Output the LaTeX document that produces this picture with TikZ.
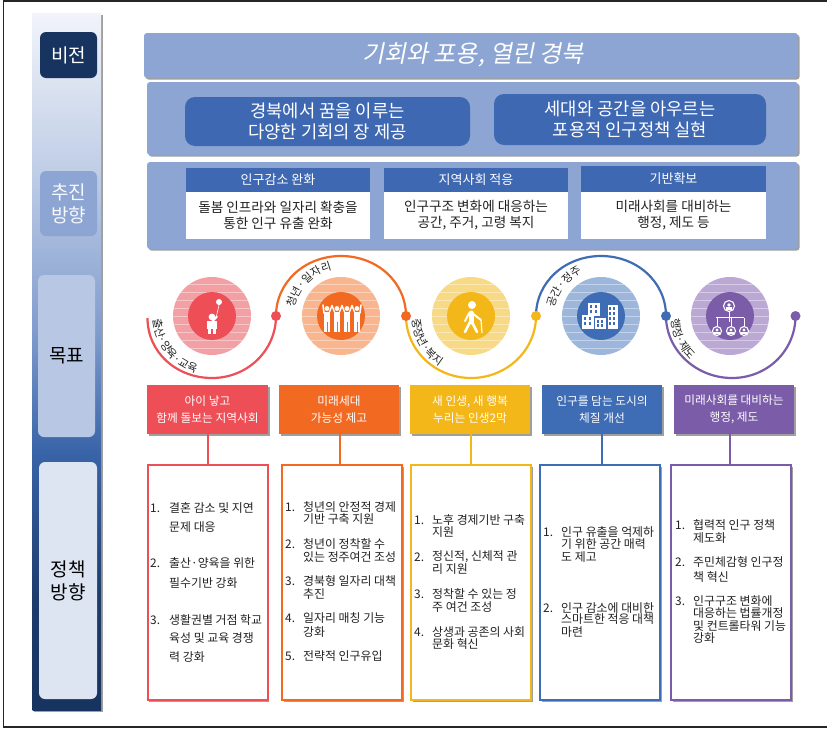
\documentclass[tikz,border=0pt]{standalone}
\usepackage{fontspec}
\setmainfont{Noto Sans CJK KR}
\newfontfamily\slantfont[FakeSlant=0.2]{Noto Sans CJK KR}
\usetikzlibrary{shadows,decorations.text,calc}
\definecolor{cred}{HTML}{EE4E56}
\definecolor{corange}{HTML}{F26A21}
\definecolor{cyellow}{HTML}{F4B71A}
\definecolor{cblue}{HTML}{3F6DB5}
\definecolor{cpurple}{HTML}{7A5CA8}
\definecolor{lred}{HTML}{F3A0A5}
\definecolor{lorange}{HTML}{F8B58E}
\definecolor{lyellow}{HTML}{F8D985}
\definecolor{lblue}{HTML}{9DB6DC}
\definecolor{lpurple}{HTML}{BBA8D4}
\definecolor{panel}{HTML}{8CA5D2}
\definecolor{btn}{HTML}{3F68B3}
\definecolor{navy}{HTML}{17335F}
\definecolor{ink}{HTML}{222222}
\pgfdeclareverticalshading{sidebarshade}{100bp}{
 color(0bp)=(navy);
 color(25bp)=(navy);
 color(33bp)=(navy!85!cblue);
 color(43.6bp)=(cblue!85!navy);
 color(52.3bp)=(panel!85!cblue);
 color(63.7bp)=(panel!55!white);
 color(75bp)=(panel!12!white);
 color(100bp)=(panel!12!white)}
\tikzset{
 hard/.style={general shadow={fill=gray!75,shadow xshift=1.6pt,shadow yshift=-1.6pt}},
 sidebox/.style={rectangle,rounded corners=6pt,inner sep=0pt,align=center,font=\fontsize{19}{23}\selectfont},
 panelbox/.style={rectangle,fill=panel,rounded corners=3pt,inner sep=0pt,hard},
 btnbox/.style={rectangle,fill=btn,rounded corners=10pt,inner sep=0pt,text=white,align=center,font=\fontsize{17.7}{20.5}\selectfont},
 cardhead/.style={rectangle,fill=btn,inner sep=0pt,text=white,font=\fontsize{13}{15}\selectfont},
 cardbody/.style={rectangle,fill=white,inner sep=0pt,text=ink,align=center,font=\fontsize{13.6}{16}\selectfont},
 goalbox/.style={rectangle,inner sep=0pt,text=white,align=center,minimum height=49pt,hard,font=\fontsize{11.7}{17}\selectfont},
 policybox/.style={rectangle,draw,line width=2pt,fill=white,inner sep=0pt,minimum width=120pt,minimum height=235pt,hard},
 listitem/.style={anchor=west,inner sep=0pt,text=ink,font=\fontsize{11.9}{14}\selectfont},
 wave/.style={line width=2.2pt},
 dot/.style={circle,inner sep=0pt,minimum size=10pt},
 stem/.style={line width=2.5pt},
 iconw/.style={white,line cap=round,line join=round},
}
\newcommand{\goalcircle}[4]{% x, light, dark, name
 \begin{scope}
  \clip (#1,316) circle[radius=39pt];
  \fill[#2] (#1-40,276) rectangle (#1+40,356);
  \foreach \yy in {284,292,...,348} {\draw[white,opacity=.4,line width=1pt] (#1-40,\yy) -- (#1+40,\yy);}
 \end{scope}
 \node[circle,fill=#3,minimum size=48pt,inner sep=0pt] (#4) at (#1,316) {};
}
\newcommand{\arclabel}[5]{% cx, from, to, r, text
 \path[decorate,decoration={text along path,text={|\fontsize{11}{11}\selectfont\color{ink}|#5}}]
  plot[domain=#2:#3,samples=50] ({#1+#4*cos(\x)},{316-#4*sin(\x)});
}
\begin{document}
\begin{tikzpicture}[x=1pt,y=-1pt]
\useasboundingbox (0,0) rectangle (827,728);
\fill[white] (0,0) rectangle (827,728);
% outer frame
\draw[black!85,line width=1.5pt] (827,1) -- (3.5,1) -- (3.5,727) -- (827,727);

% sidebar
\fill[gray!75] (34,15) rectangle (103,712);
\shade[shading=sidebarshade] (32.5,13) rectangle (101,710);
\node[sidebox,fill=navy,text=white,minimum width=57pt,minimum height=46pt] (vision) at (68.5,55) {비전};
\node[sidebox,fill=panel,text=white!92!panel,minimum width=57pt,minimum height=65pt] (drive) at (68.5,203.5) {추진\\방향};
\node[sidebox,fill=panel!62!white,text=black,minimum width=57pt,minimum height=162pt] (goal) at (66.5,356) {목표};
\node[sidebox,fill=panel!30!white,text=black,minimum width=58pt,minimum height=237pt] (policy) at (68,580.5) {정책\\방향};

% top panels
\node[panelbox,minimum width=654pt,minimum height=45pt] (p1) at (471,55.5) {};
\node[text=white,inner sep=0pt,font=\fontsize{24}{26}\slantfont] (title) at (473,55) {기회와 포용, 열린 경북};
\node[panelbox,minimum width=651pt,minimum height=73pt] (p2) at (472.5,118.5) {};
\node[panelbox,minimum width=651pt,minimum height=87pt] (p3) at (472.5,205.5) {};
\node[btnbox,minimum width=285pt,minimum height=49pt] (b1) at (327.5,121.5) {경북에서 꿈을 이루는\\다양한 기회의 장 제공};
\node[btnbox,minimum width=272pt,minimum height=51pt] (b2) at (630,119.5) {세대와 공간을 아우르는\\포용적 인구정책 실현};

\node[cardhead,minimum width=184pt,minimum height=24pt] (c1h) at (278,180) {인구감소 완화};
\node[cardbody,minimum width=184pt,minimum height=47pt] (c1b) at (278,215.5) {돌봄 인프라와 일자리 확충을\\통한 인구 유출 완화};
\node[cardhead,minimum width=184pt,minimum height=24pt] (c2h) at (476,180) {지역사회 적응};
\node[cardbody,minimum width=184pt,minimum height=47pt] (c2b) at (476,215.5) {인구구조 변화에 대응하는\\공간, 주거, 고령 복지};
\node[cardhead,minimum width=185pt,minimum height=26pt] (c3h) at (673.5,179) {기반확보};
\node[cardbody,minimum width=185pt,minimum height=47pt] (c3b) at (673.5,215.5) {미래사회를 대비하는\\행정, 제도 등};

% circles
\goalcircle{212}{lred}{cred}{k1}
\goalcircle{341}{lorange}{corange}{k2}
\goalcircle{471}{lyellow}{cyellow}{k3}
\goalcircle{601}{lblue}{cblue}{k4}
\goalcircle{730}{lpurple}{cpurple}{k5}

% wave
\coordinate (s0) at (147.5,318);
\coordinate (s1) at (276,316);
\coordinate (s2) at (406,316);
\coordinate (s3) at (536,316);
\coordinate (s4) at (666,316);
\coordinate (s5) at (795.5,316);
\coordinate (t1) at (212,378);
\coordinate (t2) at (341,256);
\coordinate (t3) at (471,378);
\coordinate (t4) at (601,256);
\coordinate (t5) at (732,378);
\draw[wave,cred] (s0) .. controls +(0,34) and +(-36,0) .. (t1) .. controls +(36,0) and +(0,34) .. (s1);
\draw[wave,corange] (s1) .. controls +(0,-34) and +(-36,0) .. (t2) .. controls +(36,0) and +(0,-34) .. (s2);
\draw[wave,cyellow] (s2) .. controls +(0,34) and +(-36,0) .. (t3) .. controls +(36,0) and +(0,34) .. (s3);
\draw[wave,cblue] (s3) .. controls +(0,-34) and +(-36,0) .. (t4) .. controls +(36,0) and +(0,-34) .. (s4);
\draw[wave,cpurple] (s4) .. controls +(0,34) and +(-36,0) .. (t5) .. controls +(36,0) and +(0,34) .. (s5);
\node[dot,fill=cred] (d1) at (s1) {};
\node[dot,fill=corange] (d2) at (s2) {};
\node[dot,fill=cyellow] (d3) at (s3) {};
\node[dot,fill=cblue] (d4) at (s4) {};
\node[dot,fill=cpurple] (d5) at (s5) {};

% wave labels
\arclabel{212}{183}{300}{59}{출산·양육·교육}
\arclabel{341}{170}{50}{47}{청년·일자리}
\arclabel{471}{183}{300}{59}{중장년·복지}
\arclabel{601}{170}{50}{47}{공간·정주}
\arclabel{730}{183}{300}{59}{행정·제도}

% icon 1: child and balloon
\fill[white] (219,302) circle[radius=3pt];
\draw[white,line width=.6pt] (219,305) -- (216.5,316);
\fill[white] (212,317) circle[radius=3.4pt];
\draw[iconw,line width=2pt] (212,322) -- (217,316.5);
\fill[white] (207,321) rectangle (216.5,329);
\fill[white] (208,329) rectangle (211,334);
\fill[white] (213,329) rectangle (216,334);

% icon 2: four people
\foreach \px in {327,337,347,357} {
 \fill[white] (\px,308.5) circle[radius=2.4pt];
 \fill[white] (\px-3,312) rectangle (\px+3,322);
 \fill[white] (\px-2.6,322) rectangle (\px-.5,332);
 \fill[white] (\px+.5,322) rectangle (\px+2.6,332);
}
\draw[iconw,line width=1.6pt] (324,313) -- (323,305);
\draw[iconw,line width=1.6pt] (360,313) -- (361,305);
\draw[iconw,line width=1.4pt] (329.5,312) -- (332,305.5) (334.5,312) -- (332,305.5);
\draw[iconw,line width=1.4pt] (339.5,312) -- (342,305.5) (344.5,312) -- (342,305.5);
\draw[iconw,line width=1.4pt] (349.5,312) -- (352,305.5) (354.5,312) -- (352,305.5);

% icon 3: walking elder with cane
\fill[white] (472,305) circle[radius=4pt];
\draw[iconw,line width=5pt] (471,313) -- (471,322);
\draw[iconw,line width=2.6pt] (470,322) -- (465,332) (472,322) -- (477,332);
\draw[iconw,line width=2pt] (472,313) -- (481,320);
\draw[white,line width=1.2pt] (481,320) -- (482,333);
\draw[iconw,line width=2pt] (469,313) -- (465,321);

% icon 4: buildings
\fill[white] (588,303) rectangle (600,316);
\fill[white] (582,315) rectangle (594,329);
\fill[white] (595,318) rectangle (606,329);
\fill[white] (607.5,305) rectangle (618,329);
\foreach \wx/\wy in {591/306,596/306,591/311,596/311,585/318,590/318,585/323,590/323,598/321,602/321,598/325,602/325,610/308,614/308,610/313,614/313,610/318,614/318,610/323,614/323} {
 \fill[cblue] (\wx-1,\wy-1.2) rectangle (\wx+1.2,\wy+1.6);
}

% icon 5: organisation chart
\draw[white,line width=.9pt] (729,312) -- (729,322) (716,317.5) -- (744,317.5) (717,317.5) -- (717,326) (731,317.5) -- (731,326) (744,317.5) -- (744,326);
\foreach \ox/\oy/\orad in {729/306/5.5,717/331/4.5,731/331/4.5,744/331/4.5} {
 \draw[white,line width=1.1pt,fill=cpurple] (\ox,\oy) circle[radius=\orad pt];
 \fill[white] (\ox,\oy-1) circle[radius=.36*\orad pt];
 \fill[white] (\ox-.6*\orad,\oy+.7*\orad) rectangle (\ox+.6*\orad,\oy+.2*\orad);
}

% goal boxes
\node[goalbox,fill=cred,minimum width=121pt] (g1) at (207.5,409.5) {아이 낳고\\함께 돌보는 지역사회};
\node[goalbox,fill=corange,minimum width=120pt] (g2) at (339,409.5) {미래세대\\가능성 제고};
\node[goalbox,fill=cyellow,minimum width=120pt] (g3) at (470,409.5) {새 인생, 새 행복\\누리는 인생2막};
\node[goalbox,fill=cblue,minimum width=120pt] (g4) at (602,409.5) {인구를 담는 도시의\\체질 개선};
\node[goalbox,fill=cpurple,minimum width=120pt] (g5) at (734,409.5) {미래사회를 대비하는\\행정, 제도};

% stems behind the policy boxes
\coordinate (q1) at (208,434); \coordinate (q2) at (340,434); \coordinate (q3) at (471,434); \coordinate (q4) at (602,434); \coordinate (q5) at (730,434);
\node[policybox,draw=cred] (pb1) at (207.5,582.5) {};
\node[policybox,draw=corange] (pb2) at (342,582.5) {};
\node[policybox,draw=cyellow] (pb3) at (471,582.5) {};
\node[policybox,draw=cblue] (pb4) at (600,582.5) {};
\node[policybox,draw=cpurple] (pb5) at (731,582.5) {};
\draw[stem,cred] (q1) -- (q1 |- pb1.north);
\draw[stem,corange] (q2) -- (q2 |- pb2.north);
\draw[stem,cyellow] (q3) -- (q3 |- pb3.north);
\draw[stem,cblue] (q4) -- (q4 |- pb4.north);
\draw[stem,cpurple] (q5) -- (q5 |- pb5.north);

% lists
\foreach \nm/\xx/\yy/\tx in {
 a1n/150/508/{1.},a1/169/508/{결혼 감소 및 지연},a2/169/527/{문제 대응},
 a3n/150/563/{2.},a3/169/563/{출산·양육을 위한},a4/169/583/{필수기반 강화},
 a5n/150/620/{3.},a5/169/620/{생활권별 거점 학교},a6/169/638/{육성 및 교육 경쟁},a7/169/657/{력 강화},
 b1n/285/507/{1.},bb1/303/507/{청년의 안정적 경제},bb2/303/519/{기반 구축 지원},
 b3n/285/544/{2.},bb3/303/544/{청년이 정착할 수},bb4/303/557/{있는 정주여건 조성},
 b5n/285/581/{3.},bb5/303/581/{경북형 일자리 대책},bb6/303/594/{추진},
 b7n/285/618/{4.},bb7/303/618/{일자리 매칭 기능},bb8/303/632/{강화},
 b9n/285/656/{5.},bb9/303/656/{전략적 인구유입},
 c1n/414/520/{1.},cc1/432/520/{노후 경제기반 구축},cc2/432/532/{지원},
 c3n/414/557/{2.},cc3/432/557/{정신적, 신체적 관},cc4/432/569/{리 지원},
 c5n/414/594/{3.},cc5/432/594/{정착할 수 있는 정},cc6/432/607/{주 여건 조성},
 c7n/414/632/{4.},cc7/432/632/{상생과 공존의 사회},cc8/432/644/{문화 혁신},
 d1n/543/532/{1.},dd1/561/532/{인구 유출을 억제하},dd2/561/544/{기 위한 공간 매력},dd3/561/557/{도 제고},
 d4n/543/608/{2.},dd4/561/608/{인구 감소에 대비한},dd5/561/619/{스마트한 적응 대책},dd6/561/632/{마련},
 e1n/675/525/{1.},ee1/693/525/{협력적 인구 정책},ee2/693/538/{제도화},
 e3n/675/562/{2.},ee3/693/562/{주민체감형 인구정},ee4/693/577/{책 혁신},
 e5n/675/601/{3.},ee5/693/601/{인구구조 변화에},ee6/693/613/{대응하는 법률개정},ee7/693/626/{및 컨트롤타워 기능},ee8/693/638/{강화}} {
 \node[listitem] (\nm) at (\xx,\yy) {\tx};
}
\end{tikzpicture}
\end{document}
